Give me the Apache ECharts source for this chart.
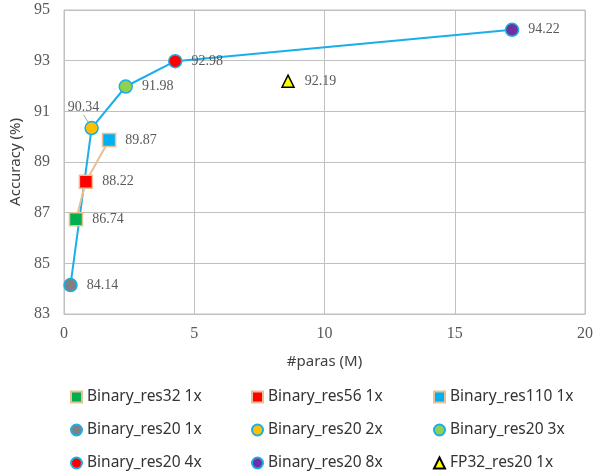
<!DOCTYPE html>
<html>
<head>
<meta charset="utf-8">
<script src="https://cdn.jsdelivr.net/npm/echarts@6/dist/echarts.min.js"></script>
<style>html,body{margin:0;padding:0;background:#fff}#c{width:596px;height:473px}</style>
</head>
<body>
<div id="c"></div>
<script>
// ---- data ----
const res20Names = ['Binary_res20 1x', 'Binary_res20 2x', 'Binary_res20 3x', 'Binary_res20 4x', 'Binary_res20 8x'];
const res20Params = [0.25, 1.06, 2.37, 4.27, 17.2];
const res20Acc = [84.14, 90.34, 91.98, 92.98, 94.22];
const res20Colors = ['#808080', '#FFC000', '#92D050', '#FF0000', '#7030A0'];

const deepNames = ['Binary_res32 1x', 'Binary_res56 1x', 'Binary_res110 1x'];
const deepParams = [0.46, 0.84, 1.73];
const deepAcc = [86.74, 88.22, 89.87];
const deepColors = ['#00B050', '#FF0000', '#00B0F0'];

const fpNames = ['FP32_res20 1x'];
const fpParams = [8.6];
const fpAcc = [92.19];

const xTicks = { min: 0, max: 20, interval: 5 };
const yTicks = { min: 83, max: 95, interval: 2 };

const legendCols = [
  ['Binary_res32 1x', 'Binary_res20 1x', 'Binary_res20 4x'],
  ['Binary_res56 1x', 'Binary_res20 2x', 'Binary_res20 8x'],
  ['Binary_res110 1x', 'Binary_res20 3x', 'FP32_res20 1x']
];

// ---- styles ----
const blueLine = '#1BAEE8';
const tanLine = '#E8BF96';
const serif = 'Liberation Serif';
const labelFont = { color: '#595959', fontSize: 14, fontFamily: serif };
const tickRich = { t: { fontFamily: serif, fontSize: 16, color: '#595959' } };

const series = [];
series.push({
  type: 'line', name: 'res20line', symbol: 'none', z: 1,
  lineStyle: { color: blueLine, width: 2 },
  data: res20Params.map((p, i) => [p, res20Acc[i]])
});
series.push({
  type: 'line', name: 'deepline', symbol: 'none', z: 1,
  lineStyle: { color: tanLine, width: 2 },
  data: deepParams.map((p, i) => [p, deepAcc[i]])
});
res20Names.forEach((n, i) => {
  const s = {
    type: 'scatter', name: n, symbol: 'circle', symbolSize: 13, z: 3,
    itemStyle: { color: res20Colors[i], borderColor: blueLine, borderWidth: 1.5, opacity: 1 },
    label: Object.assign({ show: true, position: 'right', distance: 9, formatter: p => p.value[1].toFixed(2) }, labelFont),
    data: [[res20Params[i], res20Acc[i]]]
  };
  if (i === 1) {
    s.label.position = 'top';
    s.labelLayout = { dx: -8, dy: 3 };
    s.labelLine = { show: true, lineStyle: { color: '#A6A6A6', width: 1 } };
  }
  series.push(s);
});
deepNames.forEach((n, i) => {
  series.push({
    type: 'scatter', name: n, symbol: 'rect', symbolSize: 13, z: 3,
    itemStyle: { color: deepColors[i], borderColor: tanLine, borderWidth: 1.5, opacity: 1 },
    label: Object.assign({ show: true, position: 'right', distance: 9, formatter: p => p.value[1].toFixed(2) }, labelFont),
    data: [[deepParams[i], deepAcc[i]]]
  });
});
fpNames.forEach((n, i) => {
  series.push({
    type: 'scatter', name: n, symbol: 'triangle', symbolSize: 12, z: 3,
    itemStyle: { color: '#FFFF00', borderColor: '#000000', borderWidth: 1.5, opacity: 1 },
    label: Object.assign({ show: true, position: 'right', distance: 10, formatter: p => p.value[1].toFixed(2) }, labelFont),
    data: [[fpParams[i], fpAcc[i]]]
  });
});

const legendLefts = [70, 251, 433];
const legends = legendCols.map((col, k) => ({
  orient: 'vertical', left: legendLefts[k], top: 389, height: 84,
  itemWidth: 11, itemHeight: 11, itemGap: 17, padding: 0,
  textStyle: { fontSize: 15.5, color: '#333333', fontFamily: 'Noto Sans', lineHeight: 16 },
  data: col
}));

const gridColor = '#C0C0C0';
const option = {
  animation: false,
  backgroundColor: '#fff',
  grid: { left: 64, right: 9, top: 10, bottom: 159, show: true, borderColor: gridColor, borderWidth: 1 },
  legend: legends,
  xAxis: {
    type: 'value', min: xTicks.min, max: xTicks.max, interval: xTicks.interval,
    name: '#paras (M)', nameLocation: 'middle', nameGap: 40,
    nameTextStyle: { fontSize: 15, color: '#404040', fontFamily: 'Noto Sans' },
    axisLine: { lineStyle: { color: gridColor } }, axisTick: { show: false },
    axisLabel: { margin: 12, fontSize: 16, color: '#595959', fontFamily: serif, formatter: '{t|{value}}', rich: tickRich },
    splitLine: { lineStyle: { color: gridColor, width: 1 } }
  },
  yAxis: {
    type: 'value', min: yTicks.min, max: yTicks.max, interval: yTicks.interval,
    name: 'Accuracy (%)', nameLocation: 'middle', nameGap: 36, nameRotate: 90,
    nameTextStyle: { fontSize: 15, color: '#404040', fontFamily: 'Noto Sans' },
    axisLine: { show: true, lineStyle: { color: gridColor } }, axisTick: { show: false },
    axisLabel: { margin: 14, fontSize: 16, color: '#595959', fontFamily: serif, formatter: '{t|{value}}', rich: tickRich },
    splitLine: { lineStyle: { color: gridColor, width: 1 } }
  },
  series: series
};
const chart = echarts.init(document.getElementById('c'));
chart.setOption(option);
</script>
</body>
</html>
